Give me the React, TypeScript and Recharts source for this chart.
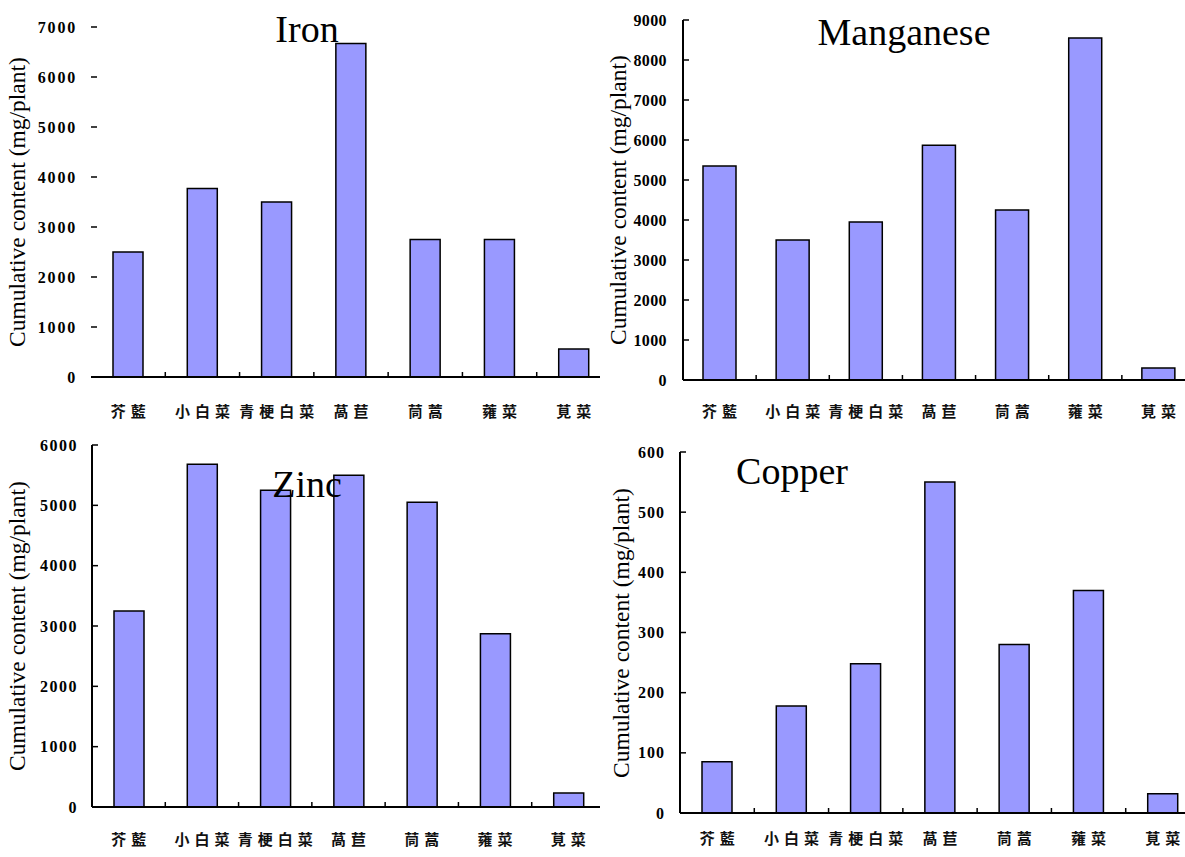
import React from "react";
import { BarChart, Bar, XAxis, YAxis } from "recharts";

// vegetables on the x axis (same order in all four panels)
const vegetables = ["芥藍", "小白菜", "青梗白菜", "萵苣", "茼蒿", "蕹菜", "莧菜"];

const ironValues = [2500, 3770, 3500, 6670, 2750, 2750, 560];
const manganeseValues = [5350, 3500, 3950, 5870, 4250, 8550, 300];
const zincValues = [3250, 5680, 5250, 5500, 5050, 2870, 230];
const copperValues = [85, 178, 248, 550, 280, 370, 32];

const ironTicks = [0, 1000, 2000, 3000, 4000, 5000, 6000, 7000];
const manganeseTicks = [0, 1000, 2000, 3000, 4000, 5000, 6000, 7000, 8000, 9000];
const zincTicks = [0, 1000, 2000, 3000, 4000, 5000, 6000];
const copperTicks = [0, 100, 200, 300, 400, 500, 600];

const yTitle = "Cumulative content (mg/plant)";

const SERIF = "'Liberation Serif', 'Times New Roman', serif";
const CJK = "'Noto Sans CJK TC', 'Noto Sans CJK SC', sans-serif";

interface PanelProps {
  title: string;
  values: number[];
  ticks: number[];
  clip: [number, number, number, number]; // left, top, width, height (page coords)
  plot: [number, number, number, number]; // left, top, right, bottom (page coords)
  gap: number;
  showYAxis: boolean;
  labelX: number;
  titleX: number;
  titleBase: number;
  catOffset: number;
  barSize: number;
  tickSpacing: number;
}

const Y_W = 60;
const X_H = 36;

function Panel(p: PanelProps) {
  const [cl, ct, cw, chh] = p.clip;
  const [pl, pt, pr, pb] = p.plot;
  const left = pl - cl;
  const top = pt - ct;
  const right = pr - cl;
  const bottom = pb - ct;
  const width = right + 10;
  const height = chh;
  const band = (right - left) / vegetables.length;
  const rows = vegetables.map((name, i) => ({ name, value: p.values[i] }));

  const yTick = (props: any) => {
    const { x, y, payload } = props;
    return (
      <g>
        <line x1={x + p.gap} x2={x + p.gap + 6} y1={y} y2={y} stroke="#000" strokeWidth={1.5} />
        <text x={x} y={y} textAnchor="end" dominantBaseline="central"
          fontFamily={SERIF} fontWeight="bold" fontSize={16} letterSpacing={p.tickSpacing} fill="#000">
          {payload.value}
        </text>
      </g>
    );
  };

  const xTick = (props: any) => {
    const { x, y, payload, index } = props;
    const sp = 5;
    return (
      <g>
        {index > 0 && (
          <line x1={x - band / 2} x2={x - band / 2} y1={y} y2={y - 5} stroke="#000" strokeWidth={1.5} />
        )}
        <text x={x + sp / 2} y={y + p.catOffset} textAnchor="middle" dominantBaseline="central"
          fontFamily={CJK} fontWeight="bold" fontSize={15} letterSpacing={sp} fill="#111">
          {payload.value}
        </text>
      </g>
    );
  };

  return (
    <div style={{ position: "absolute", left: cl, top: ct, width: cw, height: chh, overflow: "hidden" }}>
      <BarChart
        width={width}
        height={height}
        data={rows}
        margin={{ top, left: left - Y_W, right: width - right, bottom: height - bottom - X_H }}
      >
        <XAxis
          dataKey="name"
          interval={0}
          height={X_H}
          tickSize={0}
          tickMargin={0}
          tickLine={false}
          axisLine={{ stroke: "#000", strokeWidth: 2 }}
          tick={xTick}
        />
        <YAxis
          type="number"
          domain={[0, p.ticks[p.ticks.length - 1]]}
          ticks={p.ticks}
          interval={0}
          width={Y_W}
          tickSize={0}
          tickMargin={p.gap}
          tickLine={false}
          axisLine={p.showYAxis ? { stroke: "#000", strokeWidth: 2 } : false}
          tick={yTick}
        />
        <Bar dataKey="value" fill="#9999FF" stroke="#000" strokeWidth={1.5} barSize={p.barSize} isAnimationActive={false} />
      </BarChart>
      <div
        style={{
          position: "absolute",
          left: p.labelX - cl,
          top: (top + bottom) / 2,
          transform: "translate(-50%, -50%) rotate(-90deg)",
          whiteSpace: "nowrap",
          fontFamily: SERIF,
          fontSize: 23.5,
          lineHeight: 1,
          color: "#000",
        }}
      >
        {yTitle}
      </div>
      <div
        style={{
          position: "absolute",
          left: p.titleX - cl,
          top: p.titleBase - ct - 32,
          transform: "translateX(-50%)",
          whiteSpace: "nowrap",
          fontFamily: SERIF,
          fontSize: 38,
          lineHeight: 1,
          color: "#000",
        }}
      >
        {p.title}
      </div>
    </div>
  );
}

export default function App() {
  return (
    <div style={{ position: "absolute", left: 0, top: 0, width: 1185, height: 857, overflow: "hidden", background: "#fff" }}>
      <Panel title="Iron" values={ironValues} ticks={ironTicks}
        clip={[0, 0, 600, 428]} plot={[91, 27, 611, 377]} gap={14} showYAxis={false}
        labelX={18} titleX={307} titleBase={42} catOffset={33} barSize={30} tickSpacing={1.8} />
      <Panel title="Manganese" values={manganeseValues} ticks={manganeseTicks}
        clip={[600, 0, 585, 428]} plot={[683, 20, 1195, 380]} gap={16} showYAxis={true}
        labelX={619} titleX={904} titleBase={45} catOffset={30} barSize={33} tickSpacing={0.4} />
      <Panel title="Zinc" values={zincValues} ticks={zincTicks}
        clip={[0, 428, 600, 429]} plot={[92, 445, 605, 807]} gap={14} showYAxis={true}
        labelX={18} titleX={307} titleBase={497} catOffset={31} barSize={30} tickSpacing={1.5} />
      <Panel title="Copper" values={copperValues} ticks={copperTicks}
        clip={[600, 428, 585, 429]} plot={[680, 452, 1200, 813]} gap={15} showYAxis={true}
        labelX={622} titleX={792} titleBase={484} catOffset={24} barSize={30} tickSpacing={1} />
    </div>
  );
}
